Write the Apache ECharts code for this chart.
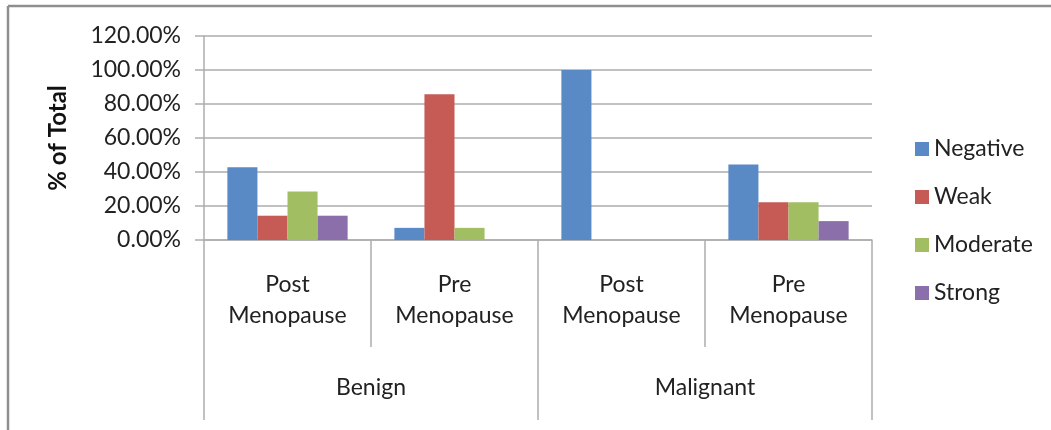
<!DOCTYPE html>
<html>
<head>
<meta charset="utf-8">
<script src="https://cdn.jsdelivr.net/npm/echarts@6/dist/echarts.min.js"></script>
<style>
  html, body { margin: 0; padding: 0; background: #fff; }
  #chart { width: 1051px; height: 430px; }
</style>
</head>
<body>
<div id="chart"></div>
<script>
// sub categories and groups (two-level axis)
const subCategories = ['Post\nMenopause', 'Pre\nMenopause', 'Post\nMenopause', 'Pre\nMenopause']
const groups = ['Benign', 'Malignant']
const seriesNames = ['Negative', 'Weak', 'Moderate', 'Strong']
const negative = [0.4286, 0.0714, 1.0, 0.4444]
const weak = [0.1429, 0.8571, 0, 0.2222]
const moderate = [0.2857, 0.0714, 0, 0.2222]
const strong = [0.1429, 0, 0, 0.1111]
const colors = ['#5A8AC6', '#C65B55', '#A2BE62', '#8A6FAA']

const fontFamily = 'Lato, "Noto Sans", sans-serif'
const gridColor = '#ADADAD'
const textColor = '#222'

const chart = echarts.init(document.getElementById('chart'))

const valueSets = [negative, weak, moderate, strong]

const option = {
  animation: false,
  textStyle: { fontFamily },
  color: colors,
  grid: { left: 204, right: 179, top: 36, bottom: 190 },
  legend: {
    orient: 'vertical',
    left: 910,
    top: 130,
    itemWidth: 14,
    itemHeight: 14,
    itemGap: 20,
    icon: 'rect',
    data: seriesNames,
    textStyle: { fontSize: 23, color: textColor, fontFamily, lineHeight: 28 }
  },
  xAxis: [
    {
      type: 'category',
      data: subCategories,
      position: 'bottom',
      axisLine: { show: true, lineStyle: { color: gridColor, width: 1.5 } },
      axisTick: { show: true, interval: 0, length: 107, lineStyle: { color: gridColor, width: 1.5 } },
      axisLabel: { interval: 0, margin: 29, fontSize: 23, lineHeight: 31, color: textColor, fontFamily }
    },
    {
      type: 'category',
      data: groups,
      position: 'bottom',
      axisLine: { show: false },
      axisTick: { show: true, interval: 0, length: 180, lineStyle: { color: gridColor, width: 1.5 } },
      axisLabel: { interval: 0, margin: 134, fontSize: 23, lineHeight: 28, color: textColor, fontFamily }
    }
  ],
  yAxis: {
    type: 'value',
    min: 0,
    max: 1.2,
    interval: 0.2,
    name: '% of Total',
    nameLocation: 'middle',
    nameRotate: 90,
    nameGap: 134,
    nameTextStyle: { fontSize: 24, fontWeight: 'bold', color: '#111', fontFamily },
    axisLine: { show: true, lineStyle: { color: gridColor, width: 1.5 } },
    axisTick: { show: true, length: 9, lineStyle: { color: gridColor, width: 1.5 } },
    splitLine: { show: true, lineStyle: { color: gridColor, width: 1.5 } },
    axisLabel: {
      fontSize: 23,
      color: textColor,
      margin: 23,
      fontFamily,
      formatter: v => (v * 100).toFixed(2) + '%'
    }
  },
  series: seriesNames.map((name, i) => ({
    name,
    type: 'bar',
    xAxisIndex: 0,
    data: valueSets[i],
    barGap: 0,
    barCategoryGap: '28%',
    itemStyle: { color: colors[i] }
  })),
  graphic: [
    { type: 'line', shape: { x1: 8, y1: 6, x2: 1051, y2: 6 }, style: { stroke: '#8E8E8E', lineWidth: 2.5 } },
    { type: 'line', shape: { x1: 8, y1: 6, x2: 8, y2: 430 }, style: { stroke: '#8E8E8E', lineWidth: 2.5 } }
  ]
}

chart.setOption(option)
</script>
</body>
</html>
